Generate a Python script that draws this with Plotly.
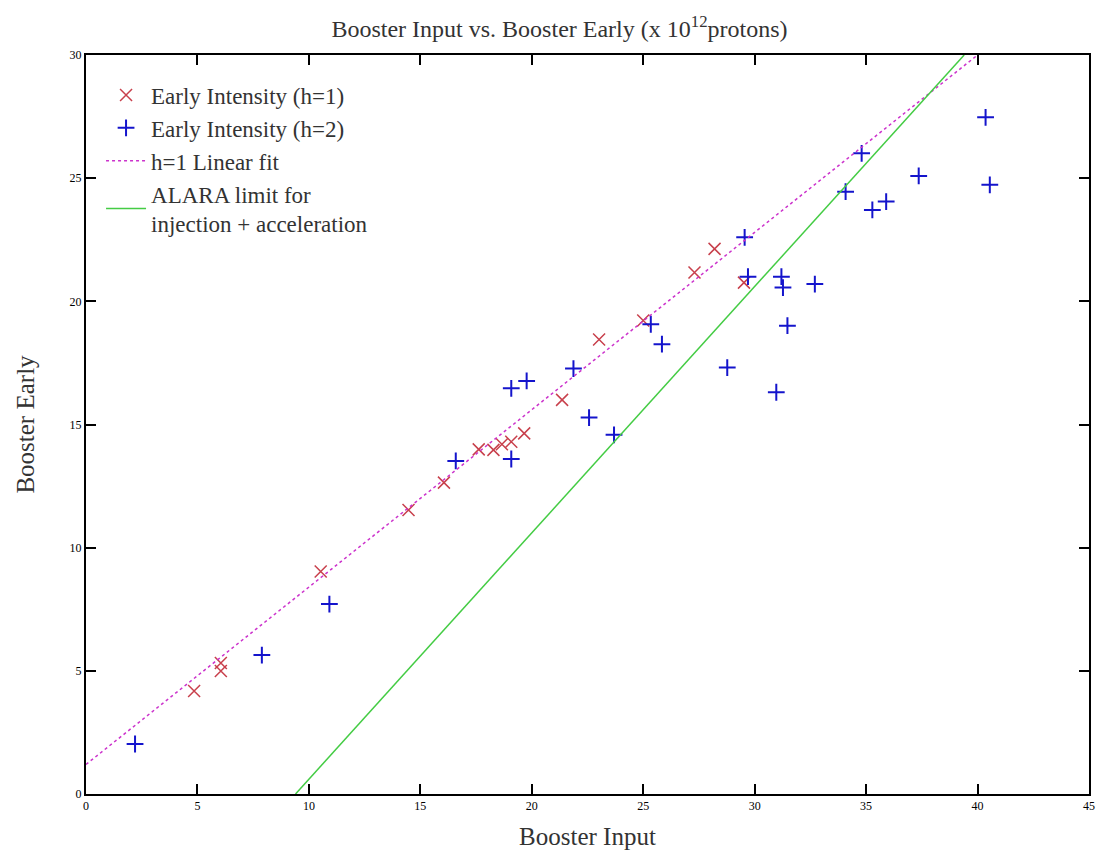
import plotly.graph_objects as go

# h=1 early intensity (red x)
h1_input = [4.85, 6.05, 6.05, 10.53, 14.47, 16.06, 17.62, 18.28, 18.66, 19.08, 19.66,
            21.36, 23.02, 25.0, 27.3, 28.2, 29.52]
h1_early = [4.18, 5.32, 4.99, 9.03, 11.53, 12.64, 13.99, 13.97, 14.2, 14.3, 14.64,
            16.0, 18.45, 19.22, 21.17, 22.13, 20.76]

# h=2 early intensity (blue +)
h2_input = [2.2, 7.89, 10.92, 16.59, 19.08, 19.77, 19.08, 21.87, 22.57, 23.69,
            25.34, 25.84, 29.55, 29.7, 28.77, 31.2, 31.27, 31.47, 32.7, 30.97,
            34.8, 34.08, 35.28, 35.9, 37.36, 40.36, 40.55]
h2_early = [2.03, 5.64, 7.71, 13.52, 16.47, 16.77, 13.6, 17.27, 15.28, 14.58,
            19.07, 18.26, 22.6, 21.0, 17.31, 21.0, 20.56, 19.01, 20.7, 16.31,
            26.01, 24.45, 23.71, 24.05, 25.09, 27.47, 24.73]

# h=1 linear fit endpoints
fit_x = [0.0, 40.0]
fit_y = [1.2, 30.0]

# ALARA limit endpoints
alara_x = [9.4, 39.4]
alara_y = [0.0, 30.0]

x_ticks = [0, 5, 10, 15, 20, 25, 30, 35, 40, 45]
y_ticks = [0, 5, 10, 15, 20, 25, 30]

serif = "Liberation Serif, Times New Roman, serif"

fig = go.Figure()
fig.add_trace(go.Scatter(
    x=h1_input, y=h1_early, mode="markers", name="Early Intensity (h=1)",
    marker=dict(symbol="x-thin", size=12, line=dict(color="#c8404c", width=1.5)),
    cliponaxis=False))
fig.add_trace(go.Scatter(
    x=h2_input, y=h2_early, mode="markers", name="Early Intensity (h=2)",
    marker=dict(symbol="cross-thin", size=12, line=dict(color="#1414cc", width=2)),
    cliponaxis=False))
fig.add_trace(go.Scatter(
    x=fit_x, y=fit_y, mode="lines", name="h=1 Linear fit",
    line=dict(color="#cc33cc", width=1.5, dash="dot")))
fig.add_trace(go.Scatter(
    x=alara_x, y=alara_y, mode="lines", name="ALARA limit for<br>injection + acceleration",
    line=dict(color="#44cc44", width=1.5)))

axis_common = dict(
    showgrid=False, zeroline=False, showline=True, linecolor="black", linewidth=2,
    mirror="ticks", ticks="inside", ticklen=10, tickwidth=1.5, tickcolor="black",
    tickfont=dict(family=serif, size=12, color="black"), automargin=False,
)

fig.update_layout(
    width=1103, height=851,
    paper_bgcolor="white", plot_bgcolor="white",
    margin=dict(l=78, r=22, t=47, b=65),
    title=dict(text="Booster Input vs. Booster Early (x 10<sup>12</sup>protons)",
               x=0.5, xanchor="center", y=0.976, yanchor="middle",
               font=dict(family=serif, size=24, color="#333333")),
    xaxis=dict(range=[0, 45], tickvals=x_ticks,
               title=dict(text="Booster Input", font=dict(family=serif, size=25, color="#333333"),
                          standoff=15),
               **axis_common),
    yaxis=dict(range=[0, 30], tickvals=y_ticks,
               title=dict(text="Booster Early", font=dict(family=serif, size=25, color="#333333"),
                          standoff=28),
               **axis_common),
    legend=dict(x=0.015, y=0.975, xanchor="left", yanchor="top",
                bgcolor="rgba(255,255,255,0)", borderwidth=0,
                font=dict(family=serif, size=23, color="#333333"),
                itemwidth=40, tracegroupgap=3),
    showlegend=True,
)

fig.write_html("out.html")
